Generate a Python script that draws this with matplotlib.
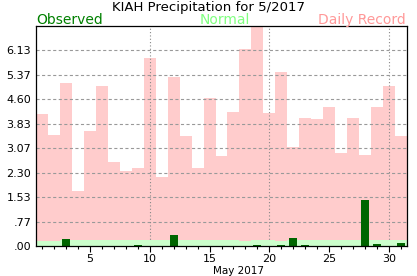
import matplotlib
matplotlib.use("Agg")
import matplotlib.pyplot as plt
from matplotlib.ticker import FixedLocator, MultipleLocator

# daily values for May 2017 at KIAH (inches)
days = list(range(1, 32))
record = [4.13, 3.48, 5.12, 1.73, 3.61, 5.02, 2.63, 2.36, 2.46, 5.91,
          2.17, 5.30, 3.45, 2.46, 4.64, 2.83, 4.21, 6.18, 6.90, 4.17,
          5.46, 3.11, 4.02, 3.98, 4.36, 2.93, 4.02, 2.86, 4.36, 5.02,
          3.45]
normal = [0.15, 0.15, 0.19, 0.19, 0.19, 0.19, 0.19, 0.19, 0.19, 0.19,
          0.19, 0.19, 0.19, 0.19, 0.19, 0.19, 0.19, 0.16, 0.19, 0.19,
          0.16, 0.19, 0.19, 0.19, 0.19, 0.19, 0.19, 0.19, 0.19, 0.19,
          0.19]
observed = [0.00, 0.00, 0.21, 0.00, 0.00, 0.00, 0.00, 0.00, 0.03, 0.00,
            0.00, 0.35, 0.00, 0.00, 0.00, 0.00, 0.00, 0.00, 0.03, 0.00,
            0.03, 0.24, 0.03, 0.00, 0.00, 0.00, 0.00, 1.43, 0.06, 0.00,
            0.09]
ymax = 6.9

fig = plt.figure(figsize=(4.17, 2.76), dpi=100)
ax = fig.add_axes([36 / 417, 30 / 276, 371 / 417, 220 / 276])

ax.bar(days, record, width=1.0, color="#ffcccc", zorder=1, linewidth=0)
ax.bar(days, normal, width=1.0, color="#ccffcc", zorder=3, linewidth=0)
ax.bar(days, observed, width=0.67, color="#006600", zorder=4, linewidth=0)

ax.set_xlim(0.5, 31.5)
ax.set_ylim(0, ymax)

# y grid: dashed gray, no tick marks
yt = [i * ymax / 9 for i in range(9)]
ax.set_yticks(yt)
ax.set_yticklabels([f"{v:.2f}".lstrip("0") if v < 1 else f"{v:.2f}" for v in yt])
for v in yt[1:]:
    ax.axhline(v, color="#999999", lw=0.8, dashes=(2.8, 2.2), zorder=2)
for d in [10, 20, 30]:
    ax.axvline(d, color="#888888", lw=0.8, ls=(0, (1, 2)), zorder=2)

ax.xaxis.set_major_locator(FixedLocator([5, 10, 15, 20, 25, 30]))
ax.xaxis.set_minor_locator(MultipleLocator(1))
ax.tick_params(axis="x", which="major", length=4.5, width=0.8, labelsize=8, pad=1)
ax.tick_params(axis="x", which="minor", length=2, width=0.8)
ax.tick_params(axis="y", length=0, labelsize=8, pad=3.5)
ax.set_xlabel("May 2017", fontsize=7.5, labelpad=0)
ax.xaxis.set_label_coords(0.546, -0.09)

for s in ax.spines.values():
    s.set_linewidth(0.9)
    s.set_zorder(5)

fig.text(0.5, 1 - 11 / 276, "KIAH Precipitation for 5/2017", ha="center",
         va="baseline", fontsize=9.5)
fig.text(36 / 417, 1 - 24 / 276, "Observed", color="#008000", fontsize=10,
         va="baseline", ha="left")
fig.text(225 / 417, 1 - 24 / 276, "Normal", color="#80ff80", fontsize=10,
         va="baseline", ha="center")
fig.text(406 / 417, 1 - 24 / 276, "Daily Record", color="#ff9999", fontsize=10,
         va="baseline", ha="right")

fig.savefig("out.png", dpi=100)
